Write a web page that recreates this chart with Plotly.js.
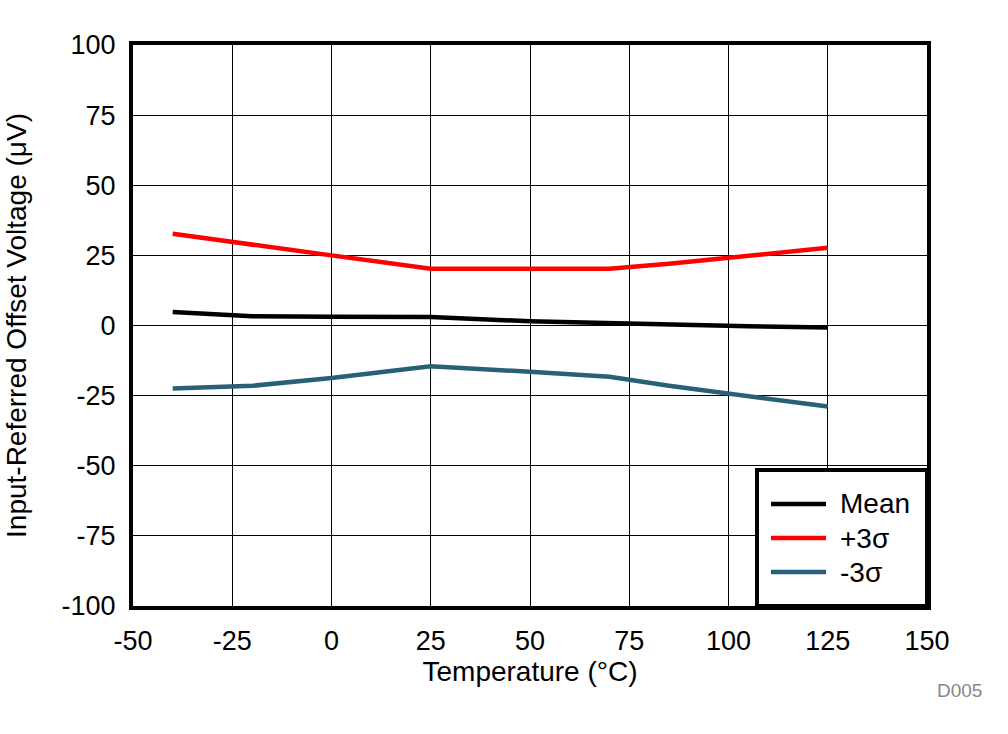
<!DOCTYPE html>
<html><head><meta charset="utf-8">
<script src="https://cdn.plot.ly/plotly-3.0.1.min.js"></script>
<style>body{margin:0;background:#fff}#c{width:1008px;height:734px}</style>
</head><body><div id="c"></div>
<script>
var temps = [-40, -20, 0, 25, 50, 70, 85, 105, 125];
var meanV = [4.8, 3.3, 3.1, 3.0, 1.5, 0.8, 0.3, -0.3, -0.7];
var plus3 = [32.7, 29.0, 25.0, 20.2, 20.2, 20.2, 22.0, 25.0, 27.7];
var minus3 = [-22.5, -21.5, -18.7, -14.5, -16.5, -18.3, -21.5, -25.3, -28.9];
var seriesNames = ['Mean', '+3σ', '-3σ'];
var seriesColors = ['#000000', '#ff0000', '#2a5f78'];
var xTicks = [-50, -25, 0, 25, 50, 75, 100, 125, 150];
var yTicks = [-100, -75, -50, -25, 0, 25, 50, 75, 100];

var F = 'Liberation Sans, Arial, sans-serif';
var ys = [meanV, plus3, minus3];
var traces = ys.map(function(v, i){
  return {x: temps, y: v, mode: 'lines', name: seriesNames[i],
    line: {color: seriesColors[i], width: 4.5}, showlegend: false};
});

// custom legend
var shapes = [{type:'rect', xref:'paper', yref:'paper', x0:(757-133)/794, x1:1.0, y0:0.0, y1:(606-470)/561,
  line:{color:'#000', width:4}, fillcolor:'#fff', layer:'above'}];
var annotations = [];
for (var i = 0; i < 3; i++) {
  var yp = 606 - [504, 538, 572][i];
  var yy = yp / 561;
  shapes.push({type:'line', xref:'paper', yref:'paper', x0:(771-133)/794, x1:(826-133)/794, y0:yy, y1:yy,
    line:{color:seriesColors[i], width:4.5}, layer:'above'});
  annotations.push({xref:'paper', yref:'paper', x:(838-133)/794, y:yy, xanchor:'left', yanchor:'middle',
    text: seriesNames[i], showarrow:false, font:{family:F, size:28, color:'#000'}});
}
annotations.push({xref:'paper', yref:'paper', x:(984-133)/794, y:-(690-606)/561, xanchor:'right', yanchor:'middle',
  text:'D005', showarrow:false, font:{family:F, size:19, color:'#888'}});

var tickCommon = {showgrid:true, gridcolor:'#000', gridwidth:1, zeroline:false, showline:true, mirror:true,
  linecolor:'#000', linewidth:4, ticks:'outside', ticklen:8, tickcolor:'rgba(0,0,0,0)', tickfont:{family:F, size:27}};
var layout = {
  width: 1008, height: 734,
  margin: {l:133, r:81, t:45, b:128},
  paper_bgcolor:'#fff', plot_bgcolor:'#fff',
  font: {family: F, color:'#000'},
  xaxis: Object.assign({range:[-50,150], tickvals:xTicks, ticktext:xTicks.map(String),
    title:{text:'Temperature (°C)', font:{family:F, size:28}, standoff:2}}, tickCommon),
  yaxis: Object.assign({range:[-100,100], tickvals:yTicks, ticktext:yTicks.map(String),
    title:{text:'Input-Referred Offset Voltage (μV)', font:{family:F, size:28}, standoff:28}}, tickCommon),
  shapes: shapes, annotations: annotations, showlegend:false
};
Plotly.newPlot('c', traces, layout, {displayModeBar:false, staticPlot:true});
</script></body></html>
